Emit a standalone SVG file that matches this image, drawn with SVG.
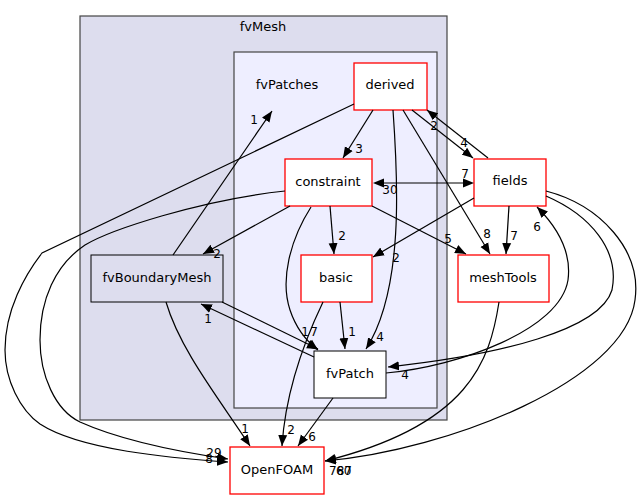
<svg xmlns="http://www.w3.org/2000/svg" width="640" height="500" viewBox="0 0 640 500">
<style>
text{font-family:"DejaVu Sans","Liberation Sans",sans-serif;fill:#000}
.n{font-size:13px;text-anchor:middle}
.l{font-size:12px;text-anchor:middle}
.red{fill:#fff;stroke:#ff0000;stroke-width:1.3}
.blk{fill:#fff;stroke:#000;stroke-width:1}
.e{fill:none;stroke:#000;stroke-width:1.2}
.ea{fill:none;stroke:#000;stroke-width:1.2;marker-end:url(#ah)}
</style>
<defs>
<marker id="ah" markerUnits="userSpaceOnUse" markerWidth="12" markerHeight="10" refX="11" refY="5" orient="auto"><path d="M0,0.5 L11,5 L0,9.5 z" fill="#000"/></marker>
</defs>
<g id="cluster_fvMesh">
<rect x="80" y="16" width="367" height="404" fill="#ddddee" stroke="#444" stroke-width="1.2"/>
<text class="n" x="263" y="31">fvMesh</text>
</g>
<g id="cluster_fvPatches">
<rect x="234" y="52" width="203" height="356" fill="#eeeeff" stroke="#444" stroke-width="1.2"/>
<text class="n" x="287" y="89">fvPatches</text>
</g>
<g id="node_derived"><rect class="red" x="354" y="63" width="73" height="47"/><text class="n" x="390" y="89">derived</text></g>
<g id="node_constraint"><rect class="red" x="285" y="159" width="87" height="47"/><text class="n" x="328" y="186">constraint</text></g>
<g id="node_basic"><rect class="red" x="301" y="255" width="71" height="47"/><text class="n" x="336" y="282">basic</text></g>
<g id="node_fvPatch"><rect class="blk" x="314" y="351" width="72" height="47"/><text class="n" x="350" y="378">fvPatch</text></g>
<g id="node_fields"><rect class="red" x="474" y="159" width="72" height="47"/><text class="n" x="510" y="185">fields</text></g>
<g id="node_meshTools"><rect class="red" x="458" y="255" width="91" height="47"/><text class="n" x="503" y="282">meshTools</text></g>
<g id="node_fvBoundaryMesh"><rect x="91" y="255" width="132" height="47" fill="#ddddee" stroke="#000" stroke-width="1"/><text class="n" x="157" y="282">fvBoundaryMesh</text></g>
<g id="node_OpenFOAM"><rect class="red" x="230" y="447" width="94" height="47"/><text class="n" x="277" y="474">OpenFOAM</text></g>
<g id="edges">
<path class="ea" d="M373,110 L343,158"/><text class="l" x="359" y="153">3</text>
<path class="ea" d="M412,110 L473,158"/><text class="l" x="464" y="147">4</text>
<path class="ea" d="M488,158 L427,110"/><text class="l" x="434" y="130">2</text>
<path class="ea" d="M403,110 L490,254"/><text class="l" x="487" y="238">8</text>
<path class="ea" d="M393,110 C398,180 404,290 366,349"/><text class="l" x="380" y="341">4</text>
<path class="ea" d="M354,104 L42,253 C25,275 5,310 5,350 C5,380 20,410 40,424 C80,450 170,458 228,462"/>
<path class="ea" d="M285,191 C200,200 110,230 85,245 C55,265 40,300 40,340 C40,375 55,410 80,422 C120,440 180,452 228,459"/>
<text class="l" x="214" y="457">29</text><text class="l" x="209" y="463">8</text>
<path class="e" d="M384,183 L463,183"/>
<path d="M373,183 L384,178.5 L384,187.5 z" fill="#000"/>
<path d="M474,183 L463,178.5 L463,187.5 z" fill="#000"/>
<text class="l" x="465" y="178">7</text><text class="l" x="390" y="194">30</text>
<path class="ea" d="M330,206 L334,254"/><text class="l" x="342" y="240">2</text>
<path class="ea" d="M372,206 L466,254"/><text class="l" x="448" y="243">5</text>
<path class="ea" d="M290,206 L203,254"/><text class="l" x="217" y="258">2</text>
<path class="ea" d="M311,207 C290,240 280,280 290,310 C295,325 305,340 318,350"/>
<path class="ea" d="M222,302 L318,349"/>
<path class="ea" d="M314,357 L201,304"/>
<text class="l" x="208" y="323">1</text>
<text class="l" x="305" y="336">1</text><text class="l" x="314" y="336">7</text>
<path class="ea" d="M173,255 L272,111"/><text class="l" x="254" y="124">1</text>
<path class="ea" d="M166,302 C180,350 220,400 250,446"/><text class="l" x="245" y="433">1</text>
<path class="ea" d="M323,302 C300,350 285,400 282,446"/><text class="l" x="291" y="434">2</text>
<path class="ea" d="M340,302 L345,349"/><text class="l" x="352" y="336">1</text>
<path class="ea" d="M333,398 L298,446"/><text class="l" x="312" y="441">6</text>
<path class="ea" d="M474,198 L373,257"/><text class="l" x="396" y="262">2</text>
<path class="ea" d="M509,206 L506,254"/><text class="l" x="514" y="240">7</text>
<path class="ea" d="M546,196 C590,215 620,250 612,290 C600,330 500,355 388,367"/><text class="l" x="405" y="379">4</text>
<path class="ea" d="M386,373 C460,366 560,330 568,280 C572,250 555,225 537,207"/><text class="l" x="537" y="231">6</text>
<path class="ea" d="M546,191 C600,205 642,250 635,300 C625,380 450,450 325,461"/>
<path class="ea" d="M499,302 C490,360 470,425 325,461"/>
<text x="329" y="475" font-size="12">787</text><text x="336" y="475" font-size="12">60</text>
</g>
</svg>
